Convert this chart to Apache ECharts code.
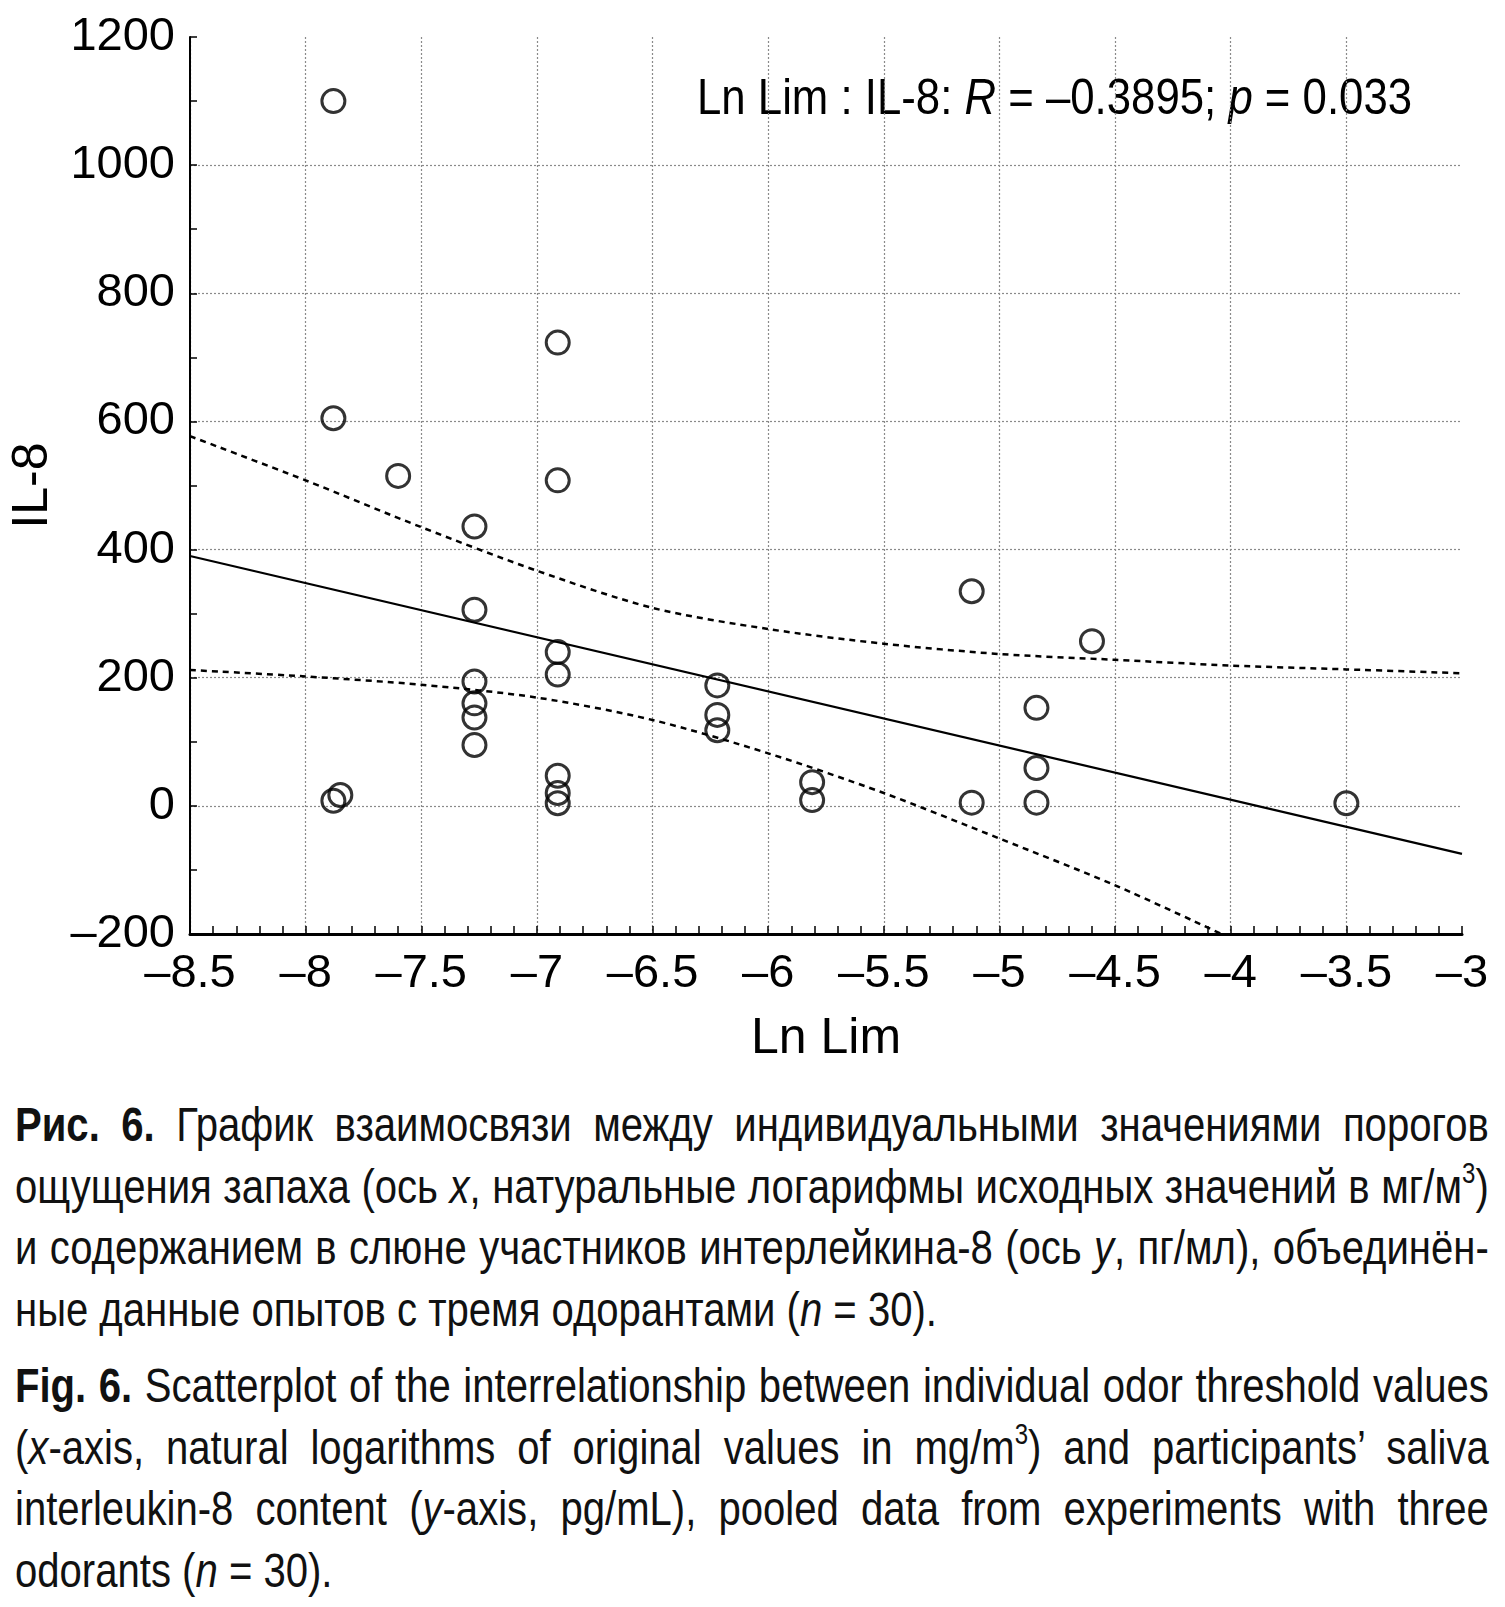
<!DOCTYPE html>
<html>
<head>
<meta charset="utf-8">
<script src="https://cdn.jsdelivr.net/npm/echarts@6/dist/echarts.min.js"></script>
<style>
  html, body { margin: 0; padding: 0; background: #fff; overflow: hidden; }
  #chart { position: absolute; left: 0; top: 0; width: 1505px; height: 1075px; }
  .cap { position: absolute; left: 15px; width: 1765px; transform: scaleX(0.835); transform-origin: 0 0;
         font-family: 'Liberation Sans', Arial, sans-serif;
         font-size: 48px; line-height: 61.5px; color: #111; }
  .cap div { text-align: justify; text-align-last: justify; white-space: nowrap; }
  .cap div.last { text-align: left; text-align-last: left; }
  .cap b { font-weight: bold; }
  .cap sup { font-size: 60%; line-height: 0; vertical-align: 0.7em; }
</style>
</head>
<body>
<div id="chart"></div>
<div class="cap" style="top:1094px">
  <div><b>Рис. 6.</b> График взаимосвязи между индивидуальными значениями порогов</div>
  <div>ощущения запаха (ось <i>x</i>, натуральные логарифмы исходных значений в мг/м<sup>3</sup>)</div>
  <div>и содержанием в слюне участников интерлейкина-8 (ось <i>y</i>, пг/мл), объединён-</div>
  <div class="last">ные данные опытов с тремя одорантами (<i>n</i> = 30).</div>
</div>
<div class="cap" style="top:1355px">
  <div><b>Fig. 6.</b> Scatterplot of the interrelationship between individual odor threshold values</div>
  <div>(<i>x</i>-axis, natural logarithms of original values in mg/m<sup>3</sup>) and participants’ saliva</div>
  <div>interleukin-8 content (<i>y</i>-axis, pg/mL), pooled data from experiments with three</div>
  <div class="last">odorants (<i>n</i> = 30).</div>
</div>
<script>
// ---- data ----
const lnLim = [-7.88, -7.88, -7.60, -6.91, -6.91, -7.27, -7.27, -7.27, -7.27, -7.27, -7.27,
               -7.88, -7.85, -6.91, -6.91, -6.91, -6.91, -6.91, -6.22, -6.22, -6.22,
               -5.12, -4.60, -4.84, -4.84, -4.84, -5.12, -5.81, -5.81, -3.50];
const il8   = [1100, 605, 515, 723, 508, 436, 306, 194, 160, 138, 95,
               8, 17, 240, 205, 47, 20, 4, 188, 142, 118,
               335, 257, 153, 59, 5, 5, 37, 9, 4];
const fitX = [-8.5, -3.0];
const fitY = [390, -75];
const upperX = [-8.5, -8.0, -7.5, -7.0, -6.5, -6.0, -5.5, -5.0, -4.5, -4.0, -3.5, -3.0];
const upperY = [577, 508, 435, 367, 309, 276, 253, 237, 228, 219, 213, 207];
const lowerX = [-8.5, -8.0, -7.5, -7.0, -6.5, -6.0, -5.5, -5.0, -4.5, -4.04];
const lowerY = [212, 202, 189, 169, 134, 82, 20, -51, -124, -200];
const xRange = [-8.5, -3, 0.5];
const yRange = [-200, 1200, 200];
const annotation = ['Ln Lim : IL-8: ', 'R', ' = –0.3895; ', 'p', ' = 0.033'];

const FONT = "'Liberation Sans', Arial, sans-serif";
const zip = (a, b) => a.map((v, i) => [v, b[i]]);
const dash = v => String(v).replace('-', '–');
const gridColors = n => Array.from({length: n}, (_, i) => i === n - 1 ? 'rgba(0,0,0,0)' : '#8a8a8a');

const chart = echarts.init(document.getElementById('chart'));
chart.setOption({
  animation: false,
  grid: { left: 187, right: 43, top: 37, bottom: 1075 - 934 },
  xAxis: {
    type: 'value', min: xRange[0], max: xRange[1], interval: xRange[2],
    name: 'Ln Lim', nameLocation: 'middle', nameGap: 80,
    nameTextStyle: { fontFamily: FONT, fontSize: 50, color: '#000' },
    axisLine: { onZero: false, lineStyle: { color: '#000', width: 3 } },
    axisTick: { inside: true, length: 8, lineStyle: { color: '#000', width: 1.5 } },
    minorTick: { show: true, splitNumber: 5, length: 8, lineStyle: { color: '#000', width: 1.5 } },
    axisLabel: { fontFamily: FONT, fontSize: 47, color: '#000', margin: 17, formatter: dash },
    splitLine: { show: true, lineStyle: { type: [2, 2], width: 1.2, color: gridColors(12) } }
  },
  yAxis: {
    type: 'value', min: yRange[0], max: yRange[1], interval: yRange[2],
    name: 'IL-8', nameLocation: 'middle', nameGap: 132,
    nameTextStyle: { fontFamily: FONT, fontSize: 50, color: '#000' },
    axisLine: { onZero: false, lineStyle: { color: '#000', width: 2 } },
    axisTick: { inside: true, length: 7, lineStyle: { color: '#000', width: 1.5 } },
    minorTick: { show: true, splitNumber: 2, length: 7, lineStyle: { color: '#000', width: 1.5 } },
    axisLabel: { fontFamily: FONT, fontSize: 47, color: '#000', margin: 15, formatter: dash },
    splitLine: { show: true, lineStyle: { type: [2, 2], width: 1.2, color: gridColors(8) } }
  },
  graphic: [{
    type: 'text', x: 697, y: 75, scaleX: 0.875,
    style: {
      text: '{n|' + annotation[0] + '}{i|' + annotation[1] + '}{n|' + annotation[2] + '}{i|' + annotation[3] + '}{n|' + annotation[4] + '}',
      rich: {
        n: { fontFamily: FONT, fontSize: 50, fill: '#000' },
        i: { fontFamily: FONT, fontSize: 50, fontStyle: 'italic', fill: '#000' }
      }
    }
  }],
  series: [
    { type: 'line', data: zip(upperX, upperY), symbol: 'none', smooth: 0.3, clip: true,
      lineStyle: { color: '#000', width: 2.5, type: [6, 5] }, z: 2 },
    { type: 'line', data: zip(lowerX, lowerY), symbol: 'none', smooth: 0.3, clip: true,
      lineStyle: { color: '#000', width: 2.5, type: [6, 5] }, z: 2 },
    { type: 'line', data: zip(fitX, fitY), symbol: 'none', clip: true,
      lineStyle: { color: '#000', width: 2.2 }, z: 2 },
    { type: 'scatter', data: zip(lnLim, il8), symbol: 'circle', symbolSize: 23,
      itemStyle: { color: 'rgba(0,0,0,0)', borderColor: '#000', borderWidth: 3 }, z: 3 }
  ]
});
</script>
</body>
</html>
